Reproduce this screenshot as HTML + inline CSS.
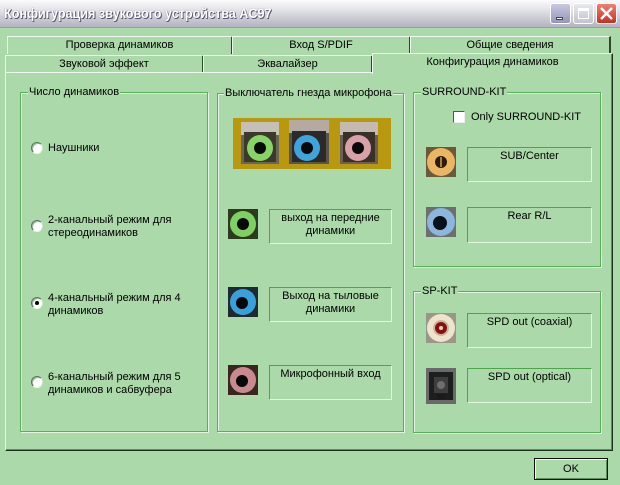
<!DOCTYPE html>
<html><head><meta charset="utf-8"><style>
*{box-sizing:border-box;margin:0;padding:0}
body{width:620px;height:485px;background:#abd9a9;overflow:hidden;position:relative;font-family:"Liberation Sans","DejaVu Sans",sans-serif;font-size:11px;color:#000}
.a{position:absolute}
.title{left:0;top:0;width:620px;height:28px;background:linear-gradient(#fbfbfd 0%,#e4e4ea 35%,#c9c9d3 70%,#b3b3c2 100%);border-bottom:1px solid #9a9aa8}
.ttext{left:4px;top:5px;font-weight:bold;font-size:14px;color:#fff;text-shadow:1px 1px 0 #55556a,0 0 1px #6a6a80;white-space:nowrap;transform:scaleX(0.9);transform-origin:left top}
.btn{top:3px;width:21px;height:21px;border:1px solid #fff;border-radius:3px}
.tab{height:18px;border-top:1px solid #eef8ee;border-left:1px solid #eef8ee;border-right:2px solid #2a4a2a;text-align:center;line-height:16px;white-space:nowrap}
.panel{left:5px;top:72px;width:608px;height:379px;border-top:1px solid #eef8ee;border-left:1px solid #eef8ee;border-right:1px solid #1c321c;border-bottom:1px solid #1c321c;box-shadow:inset -1px -1px 0 #5e8a5e}
.grp{border:1px solid #55b255;box-shadow:inset 1px 1px 0 #e2f4e2,1px 1px 0 #e2f4e2}
.gt{background:#abd9a9;padding:0 1px;white-space:nowrap;line-height:13px}
.lbl{border-top:1px solid #4aa64a;border-left:1px solid #4aa64a;border-bottom:1px solid #e4f6e4;border-right:1px solid #e4f6e4;text-align:center;line-height:13px;padding-top:2px}
.radio{width:12px;height:12px;border-radius:50%;background:#fff;border:1px solid;border-color:#557755 #cfe8cf #eef8ee #557755;box-shadow:inset 1px 1px 0 #9ab89a}
.rt{line-height:13px;white-space:nowrap}
</style></head><body>

<div class="a title"></div>
<div class="a ttext">Конфигурация звукового устройства AC97</div>
<div class="a btn" style="left:550px;background:linear-gradient(#c8c8e0,#9696b8);"><div class="a" style="left:5px;top:13px;width:7px;height:3px;background:#fff;border:1px solid #445"></div></div>
<div class="a btn" style="left:573px;background:linear-gradient(#e8e8ee,#c4c4d0);"><div class="a" style="left:4px;top:4px;width:11px;height:11px;border:1px solid #fff;border-top-width:3px"></div></div>
<div class="a btn" style="left:596px;background:linear-gradient(#f08070,#c83020);">
<svg class="a" style="left:3px;top:3px" width="13" height="13"><path d="M1 1L12 12M12 1L1 12" stroke="#fff" stroke-width="2.4"/></svg></div>

<!-- tabs row 1 -->
<div class="a tab" style="left:7px;top:36px;width:226px">Проверка динамиков</div>
<div class="a tab" style="left:232px;top:36px;width:179px">Вход S/PDIF</div>
<div class="a tab" style="left:410px;top:36px;width:201px">Общие сведения</div>

<!-- panel -->
<div class="a panel"></div>

<!-- tabs row 2 -->
<div class="a tab" style="left:5px;top:55px;width:199px;height:17px;line-height:17px">Звуковой эффект</div>
<div class="a tab" style="left:203px;top:55px;width:170px;height:17px;line-height:17px">Эквалайзер</div>
<div class="a tab" style="left:372px;top:53px;width:241px;height:21px;background:#abd9a9;border-right:1px solid #1c321c;box-shadow:inset -1px 0 0 #5e8a5e;line-height:17px">Конфигурация динамиков</div>

<!-- group 1 -->
<div class="a grp" style="left:20px;top:92px;width:188px;height:340px"></div>
<div class="a gt" style="left:28px;top:86px">Число динамиков</div>

<div class="a radio" style="left:31px;top:142px"></div>
<div class="a rt" style="left:48px;top:142px">Наушники</div>
<div class="a radio" style="left:31px;top:220px"></div>
<div class="a rt" style="left:48px;top:214px">2-канальный режим для<br>стереодинамиков</div>
<div class="a radio" style="left:31px;top:297px"><div class="a" style="left:3px;top:3px;width:4px;height:4px;border-radius:50%;background:#000"></div></div>
<div class="a rt" style="left:48px;top:292px">4-канальный режим для 4<br>динамиков</div>
<div class="a radio" style="left:31px;top:376px"></div>
<div class="a rt" style="left:48px;top:371px">6-канальный режим для 5<br>динамиков и сабвуфера</div>

<!-- group 2 -->
<div class="a grp" style="left:217px;top:93px;width:187px;height:339px"></div>
<div class="a gt" style="left:224px;top:87px">Выключатель гнезда микрофона</div>

<svg class="a" style="left:233px;top:118px" width="158" height="51">
<rect width="158" height="51" fill="#b8980e"/>
<g>
<rect x="8" y="4" width="38" height="42" fill="#6a645a"/>
<rect x="8" y="4" width="38" height="13" fill="#c4c0b8"/>
<rect x="11" y="14" width="32" height="30" fill="#3a3a2a"/>
<circle cx="27" cy="30" r="13" fill="#86d466"/><circle cx="27" cy="30" r="6" fill="#0a0a0a"/>
<rect x="56" y="2" width="40" height="44" fill="#5a544e"/>
<rect x="56" y="2" width="40" height="13" fill="#b4aaa2"/>
<rect x="59" y="13" width="34" height="31" fill="#2a2a2a"/>
<circle cx="74" cy="30" r="13" fill="#40a4dc"/><circle cx="74" cy="30" r="6" fill="#0a0a0a"/>
<rect x="107" y="4" width="38" height="42" fill="#6a6058"/>
<rect x="107" y="4" width="38" height="13" fill="#c4bab2"/>
<rect x="110" y="14" width="32" height="30" fill="#3a302a"/>
<circle cx="125" cy="30" r="13" fill="#d8a0a8"/><circle cx="125" cy="30" r="6" fill="#0a0a0a"/>
</g></svg>

<svg class="a" style="left:228px;top:209px" width="30" height="30"><rect width="30" height="30" fill="#2c3a1e"/><circle cx="15" cy="15" r="13" fill="#7ed060"/><circle cx="15" cy="15" r="6" fill="#080808"/></svg>
<div class="a lbl" style="left:269px;top:209px;width:123px;height:35px">выход на передние<br>динамики</div>

<svg class="a" style="left:228px;top:287px" width="30" height="30"><rect width="30" height="30" fill="#1e2a30"/><circle cx="15" cy="15" r="13" fill="#3aa0dc"/><circle cx="14" cy="16" r="6" fill="#080808"/></svg>
<div class="a lbl" style="left:269px;top:287px;width:123px;height:35px">Выход на тыловые<br>динамики</div>

<svg class="a" style="left:228px;top:365px" width="30" height="30"><rect width="30" height="30" fill="#3a2620"/><circle cx="15" cy="15" r="13" fill="#c88a8e"/><circle cx="14" cy="16" r="6" fill="#080808"/></svg>
<div class="a lbl" style="left:269px;top:365px;width:123px;height:35px">Микрофонный вход</div>

<!-- group 3 -->
<div class="a grp" style="left:413px;top:92px;width:188px;height:175px"></div>
<div class="a gt" style="left:421px;top:86px">SURROUND-KIT</div>
<div class="a" style="left:453px;top:111px;width:12px;height:12px;background:#fff;border:1px solid;border-color:#555 #eee #eee #555"></div>
<div class="a rt" style="left:471px;top:111px">Only SURROUND-KIT</div>

<svg class="a" style="left:426px;top:147px" width="30" height="30"><rect width="30" height="30" fill="#6a5a3a"/><circle cx="15" cy="15" r="14" fill="#eab664"/><circle cx="15" cy="15" r="6" fill="#2a1a08"/><rect x="14" y="10" width="2" height="10" fill="#a08040"/></svg>
<div class="a lbl" style="left:467px;top:147px;width:125px;height:35px">SUB/Center</div>

<svg class="a" style="left:426px;top:207px" width="30" height="30"><rect width="30" height="30" fill="#6a7070"/><circle cx="15" cy="15" r="14" fill="#8cb6de"/><circle cx="14" cy="16" r="7" fill="#0a1018"/></svg>
<div class="a lbl" style="left:467px;top:207px;width:125px;height:36px">Rear R/L</div>

<!-- group 4 -->
<div class="a grp" style="left:413px;top:291px;width:188px;height:142px"></div>
<div class="a gt" style="left:421px;top:285px">SP-KIT</div>

<svg class="a" style="left:426px;top:313px" width="30" height="30"><rect width="30" height="30" fill="#9a9688"/><circle cx="15" cy="15" r="14" fill="#ece4cc"/><circle cx="15" cy="15" r="8" fill="#c8b8a0"/><circle cx="15" cy="15" r="6" fill="#8a1010"/><circle cx="15" cy="15" r="2" fill="#e8d0c0"/></svg>
<div class="a lbl" style="left:467px;top:313px;width:125px;height:35px">SPD out (coaxial)</div>

<svg class="a" style="left:426px;top:368px" width="30" height="36"><rect width="30" height="36" fill="#6a6a6a"/><rect x="3" y="4" width="24" height="28" fill="#1e1e1e"/><rect x="8" y="9" width="14" height="16" fill="#3e3e3e"/><circle cx="15" cy="17" r="4" fill="#6e6e6e"/><rect x="11" y="26" width="8" height="5" fill="#1a1a1a"/></svg>
<div class="a lbl" style="left:467px;top:368px;width:125px;height:35px">SPD out (optical)</div>

<!-- OK -->
<div class="a" style="left:534px;top:458px;width:74px;height:22px;border:1px solid #101010;box-shadow:inset 1px 1px 0 #eef8ee,inset -1px -1px 0 #5e8a5e;text-align:center;line-height:20px">OK</div>

</body></html>
